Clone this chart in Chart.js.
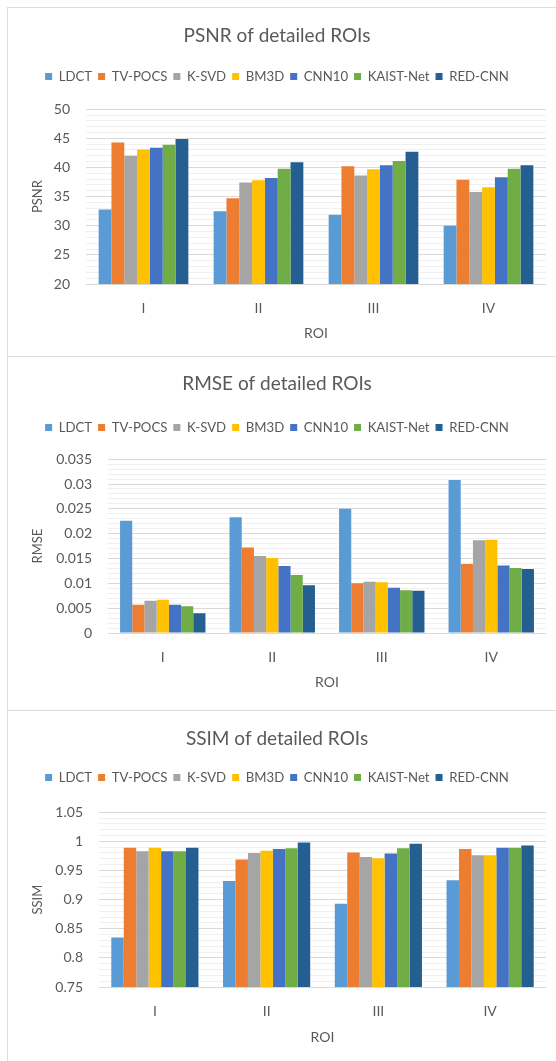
<!DOCTYPE html>
<html><head><meta charset="utf-8">
<script src="https://cdn.jsdelivr.net/npm/chart.js@4/dist/chart.umd.min.js"></script>
<style>
html,body{margin:0;padding:0;background:#fff;width:556px;height:1061px;overflow:hidden;}
.panel{position:absolute;left:7px;width:560px;border-left:1px solid #dcdcdc;border-top:1px solid #dcdcdc;box-sizing:border-box;background:#fff;}
canvas{display:block;}
</style></head><body>
<div class="panel" style="top:7px;height:350px"><canvas id="c1" width="548" height="348"></canvas></div>
<div class="panel" style="top:356px;height:355px"><canvas id="c2" width="548" height="353"></canvas></div>
<div class="panel" style="top:710px;height:351px"><canvas id="c3" width="548" height="350"></canvas></div>
<script>
const categories = ['I', 'II', 'III', 'IV'];
const seriesNames = ['LDCT', 'TV-POCS', 'K-SVD', 'BM3D', 'CNN10', 'KAIST-Net', 'RED-CNN'];
const seriesColors = ['#5B9BD5', '#ED7D31', '#A5A5A5', '#FFC000', '#4472C4', '#70AD47', '#255E91'];

// PSNR
const psnrLDCT    = [32.8, 32.5, 31.9, 30.0];
const psnrTVPOCS  = [44.3, 34.7, 40.2, 37.9];
const psnrKSVD    = [42.0, 37.4, 38.6, 35.8];
const psnrBM3D    = [43.1, 37.8, 39.7, 36.6];
const psnrCNN10   = [43.4, 38.2, 40.4, 38.3];
const psnrKAIST   = [43.9, 39.8, 41.1, 39.8];
const psnrREDCNN  = [44.9, 40.9, 42.7, 40.4];

// RMSE
const rmseLDCT    = [0.0226, 0.0233, 0.0250, 0.0308];
const rmseTVPOCS  = [0.0057, 0.0172, 0.0100, 0.0139];
const rmseKSVD    = [0.0065, 0.0155, 0.0103, 0.0187];
const rmseBM3D    = [0.0067, 0.0151, 0.0102, 0.0188];
const rmseCNN10   = [0.0057, 0.0135, 0.0091, 0.0136];
const rmseKAIST   = [0.0054, 0.0117, 0.0086, 0.0131];
const rmseREDCNN  = [0.0040, 0.0096, 0.0085, 0.0129];

// SSIM
const ssimLDCT    = [0.835, 0.932, 0.893, 0.933];
const ssimTVPOCS  = [0.989, 0.969, 0.981, 0.987];
const ssimKSVD    = [0.983, 0.980, 0.973, 0.976];
const ssimBM3D    = [0.989, 0.984, 0.971, 0.976];
const ssimCNN10   = [0.983, 0.987, 0.979, 0.989];
const ssimKAIST   = [0.983, 0.988, 0.988, 0.989];
const ssimREDCNN  = [0.989, 0.998, 0.996, 0.993];

// Tick labels (major)
const psnrTickLabels = ['20', '25', '30', '35', '40', '45', '50'];
const rmseTickLabels = ['0', '0.005', '0.01', '0.015', '0.02', '0.025', '0.03', '0.035'];
const ssimTickLabels = ['0.75', '0.8', '0.85', '0.9', '0.95', '1', '1.05'];

const FONT = 'Lato, "Liberation Sans", sans-serif';
const TXT = '#595959';

function makeChart(id, p) {
  const majors = p.tickLabels.map(Number);
  const majorLabel = v => {
    for (let i = 0; i < majors.length; i++) {
      if (Math.abs(v - majors[i]) < p.minorStep * 0.01) return p.tickLabels[i];
    }
    return null;
  };
  const datasets = seriesNames.map((n, i) => ({
    label: n,
    data: p.series[i],
    backgroundColor: seriesColors[i],
    borderWidth: 0,
    categoryPercentage: 0.78,
    barPercentage: 1.0
  }));
  new Chart(document.getElementById(id), {
    type: 'bar',
    data: { labels: categories, datasets },
    options: {
      responsive: false,
      animation: false,
      devicePixelRatio: 1,
      layout: { padding: { left: 0, right: 10, top: 0, bottom: 0 } },
      plugins: {
        title: {
          display: true, text: p.title, color: TXT,
          font: { family: FONT, size: 19, weight: 'normal' },
          padding: { top: p.titleTop, bottom: p.titleBottom }
        },
        legend: {
          display: true, position: 'top',
          labels: {
            color: TXT, boxWidth: 7, boxHeight: 7, padding: 6,
            font: { family: FONT, size: 13.2 }
          }
        },
        subtitle: {
          display: true, text: '', weight: 500,
          font: { size: 1 }, padding: { top: p.gap, bottom: 0 }
        },
        tooltip: { enabled: false }
      },
      scales: {
        x: {
          grid: { display: false },
          border: { display: false },
          ticks: { color: TXT, font: { family: FONT, size: 14 }, padding: 8 },
          title: {
            display: true, text: 'ROI', color: TXT,
            font: { family: FONT, size: 14 },
            padding: { top: 0, bottom: p.xTitleBottom }
          },
          afterFit: s => { s.height = p.xHeight; }
        },
        y: {
          min: p.min, max: p.max,
          border: { display: false },
          grid: {
            drawTicks: false,
            color: c => majorLabel(c.tick.value) !== null ? '#d9d9d9' : '#f0f0f0',
            lineWidth: 1
          },
          ticks: {
            stepSize: p.minorStep, autoSkip: false, maxTicksLimit: 200,
            color: TXT, font: { family: FONT, size: 14 }, padding: 16,
            callback: v => { const l = majorLabel(v); return l === null ? '' : l; }
          },
          title: {
            display: true, text: p.yTitle, color: TXT,
            font: { family: FONT, size: 13 },
            padding: { top: 22, bottom: 0 }
          },
          afterFit: s => { s.width = p.yWidth; }
        }
      }
    }
  });
}

makeChart('c1', {
  title: 'PSNR of detailed ROIs', yTitle: 'PSNR',
  series: [psnrLDCT, psnrTVPOCS, psnrKSVD, psnrBM3D, psnrCNN10, psnrKAIST, psnrREDCNN],
  tickLabels: psnrTickLabels, min: 20, max: 50, minorStep: 1,
  titleTop: 16, titleBottom: 17, gap: 15,
  yWidth: 78, xHeight: 72, xTitleBottom: 14.6
});
makeChart('c2', {
  title: 'RMSE of detailed ROIs', yTitle: 'RMSE',
  series: [rmseLDCT, rmseTVPOCS, rmseKSVD, rmseBM3D, rmseCNN10, rmseKAIST, rmseREDCNN],
  tickLabels: rmseTickLabels, min: 0, max: 0.035, minorStep: 0.001,
  titleTop: 15, titleBottom: 20, gap: 14,
  yWidth: 100, xHeight: 77, xTitleBottom: 19.6
});
makeChart('c3', {
  title: 'SSIM of detailed ROIs', yTitle: 'SSIM',
  series: [ssimLDCT, ssimTVPOCS, ssimKSVD, ssimBM3D, ssimCNN10, ssimKAIST, ssimREDCNN],
  tickLabels: ssimTickLabels, min: 0.75, max: 1.05, minorStep: 0.01,
  titleTop: 16, titleBottom: 15, gap: 17,
  yWidth: 91, xHeight: 74, xTitleBottom: 15.6
});
</script>
</body></html>
